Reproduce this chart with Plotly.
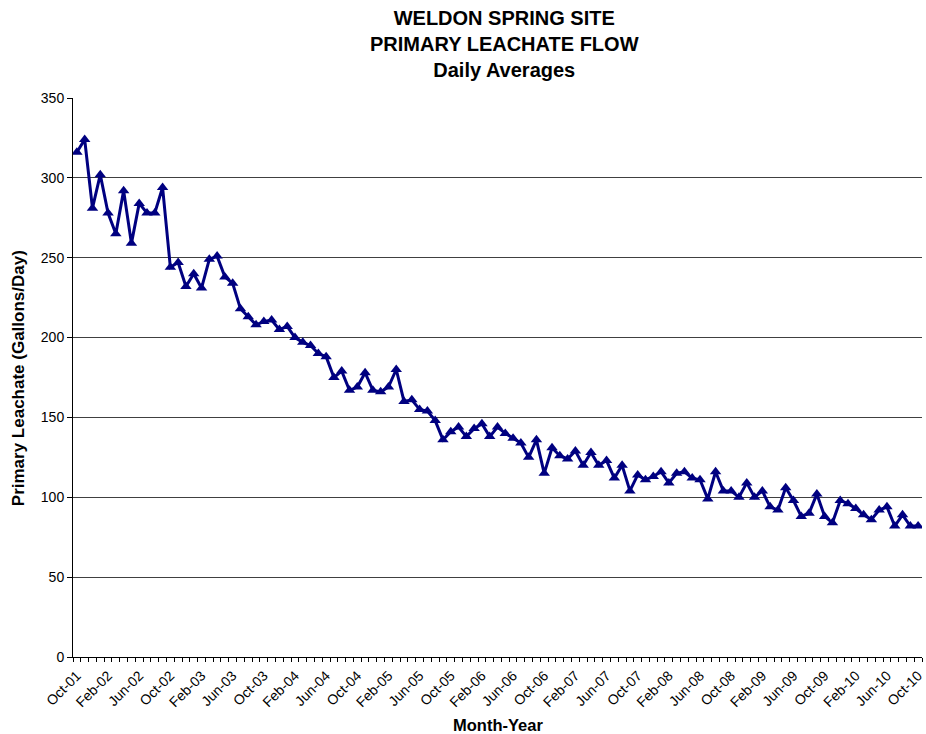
import plotly.graph_objects as go

# Monthly daily-average primary leachate flow, Oct-01 .. Oct-10
values = [316, 324, 281, 302, 278, 265, 292, 259, 284, 278,
          278, 294, 244, 247, 232, 240, 231, 249, 251, 238,
          234, 218, 213, 208, 210, 211, 205, 207, 200, 197,
          195, 190, 188, 175, 179, 167, 169, 178, 167, 166,
          169, 180, 160, 161, 155, 154, 148, 136, 141, 144,
          138, 143, 146, 138, 144, 140, 137, 134, 125, 136,
          115, 131, 126, 124, 129, 120, 128, 120, 123, 112,
          120, 104, 114, 111, 113, 116, 109, 115, 116, 112,
          111, 99, 116, 104, 104, 100, 109, 100, 104, 94,
          92, 106, 98, 88, 90, 102, 88, 84, 98, 96,
          93, 89, 86, 92, 94, 82, 89, 82, 82]

month_names = ["Jan", "Feb", "Mar", "Apr", "May", "Jun",
               "Jul", "Aug", "Sep", "Oct", "Nov", "Dec"]
months = []
m, y = 9, 1
for _ in range(len(values)):
    months.append(f"{month_names[m]}-{y:02d}")
    m += 1
    if m == 12:
        m, y = 0, y + 1

tick_labels = ["Oct-01", "Feb-02", "Jun-02", "Oct-02", "Feb-03", "Jun-03", "Oct-03",
               "Feb-04", "Jun-04", "Oct-04", "Feb-05", "Jun-05", "Oct-05", "Feb-06",
               "Jun-06", "Oct-06", "Feb-07", "Jun-07", "Oct-07", "Feb-08", "Jun-08",
               "Oct-08", "Feb-09", "Jun-09", "Oct-09", "Feb-10", "Jun-10", "Oct-10"]

x_idx = list(range(len(months)))
tick_vals = [months.index(t) for t in tick_labels]
boundaries = [i - 0.5 for i in range(len(months) + 1)]

FONT = "Arial, Liberation Sans, sans-serif"
NAVY = "#000080"

fig = go.Figure()
fig.add_trace(go.Scatter(
    x=x_idx, y=values, mode="lines+markers",
    line=dict(color=NAVY, width=3),
    marker=dict(symbol="triangle-up", size=10, color=NAVY),
    text=months, hovertemplate="%{text}: %{y}<extra></extra>",
    showlegend=False,
))

fig.update_layout(
    width=926, height=734,
    margin=dict(l=73, r=1, t=98, b=77),
    paper_bgcolor="white", plot_bgcolor="white",
    font=dict(family=FONT, color="black", size=14),
    annotations=[
        dict(text="<b>WELDON SPRING SITE<br>PRIMARY LEACHATE FLOW<br>Daily Averages</b>",
             xref="paper", yref="paper",
             x=(506 - 73) / 852, y=(657 - 44) / 559,
             xanchor="center", yanchor="middle", showarrow=False,
             font=dict(family=FONT, size=20, color="black")),
        dict(text="<b>Month-Year</b>", xref="paper", yref="paper",
             x=(500 - 73) / 852, y=(657 - 725) / 559, xanchor="center", yanchor="middle",
             showarrow=False, font=dict(family=FONT, size=16.5, color="black")),
        dict(text="<b>Primary Leachate (Gallons/Day)</b>", xref="paper", yref="paper",
             x=(18 - 73) / 852, y=(657 - 378) / 559, xanchor="center", yanchor="middle",
             textangle=-90, showarrow=False,
             font=dict(family=FONT, size=17, color="black")),
    ],
)

fig.update_xaxes(
    range=[-0.5, len(months) - 0.5],
    tickmode="array", tickvals=tick_vals, ticktext=tick_labels,
    tickangle=-45, ticks="", showgrid=False, zeroline=False,
    showline=True, linecolor="black", linewidth=1,
    ticklabeloverflow="allow", ticklabelstandoff=4,
    tickfont=dict(family=FONT, size=14, color="black"),
    minor=dict(tickmode="array", tickvals=boundaries, ticks="outside",
               ticklen=4, tickcolor="black", showgrid=False),
)

fig.update_yaxes(
    range=[0, 350], dtick=50, tick0=0,
    showgrid=True, gridcolor="#404040", gridwidth=1,
    zeroline=False, showline=True, linecolor="black", linewidth=1,
    ticks="outside", ticklen=5, tickcolor="black",
    tickfont=dict(family=FONT, size=14, color="black"),
)

fig.write_html("out.html")
